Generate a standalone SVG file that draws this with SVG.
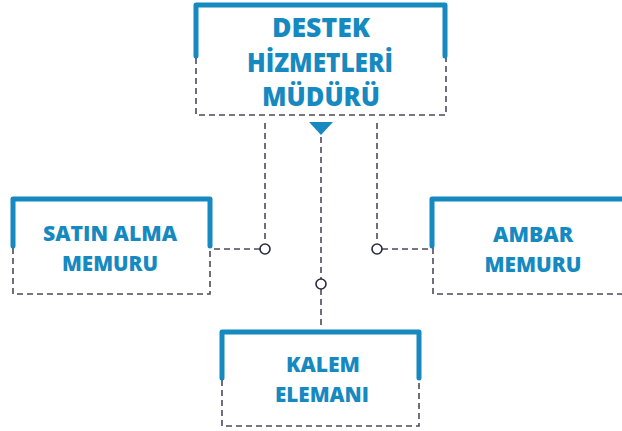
<svg xmlns="http://www.w3.org/2000/svg" width="622" height="431" viewBox="0 0 622 431">
<style>
.br{fill:none;stroke:#1589c0;stroke-width:5;stroke-linejoin:round;stroke-linecap:round}
.ds{fill:none;stroke:#4b4a5e;stroke-width:1.6;stroke-dasharray:6 4}
.dot{fill:#fff;stroke:#2a2a3e;stroke-width:1.6}
text{font-family:"Open Sans","DejaVu Sans",sans-serif;font-weight:800;fill:#1589c0;text-anchor:middle}
.big{font-size:26.5px}
.sm{font-size:21px}
</style>
<rect width="622" height="431" fill="#fff"/>
<g id="connectors">
<path class="ds" d="M265,123 V243 M260,249 H211"/>
<path class="ds" d="M377,123 V243 M382,249 H432"/>
<path class="ds" d="M321,137 V279 M321,289 V328"/>
<circle class="dot" cx="265" cy="249" r="5"/>
<circle class="dot" cx="377" cy="249" r="5"/>
<circle class="dot" cx="321" cy="284" r="5"/>
<polygon points="309,122 333,122 321,135" fill="#1589c0"/>
</g>
<g id="destek">
<path class="br" d="M196,56 V5 H445 V56"/>
<path class="ds" d="M196,58 V115 H446 V58"/>
<text class="big" x="321" y="37" textLength="98" lengthAdjust="spacingAndGlyphs">DESTEK</text>
<text class="big" x="320" y="72" textLength="146" lengthAdjust="spacingAndGlyphs">HİZMETLERİ</text>
<text class="big" x="321" y="106" textLength="118" lengthAdjust="spacingAndGlyphs">MÜDÜRÜ</text>
</g>
<g id="satin">
<path class="br" d="M13,246 V199 H210 V246"/>
<path class="ds" d="M13,248 V294 H210 V248"/>
<text class="sm" x="110" y="241" textLength="134" lengthAdjust="spacingAndGlyphs">SATIN ALMA</text>
<text class="sm" x="110" y="271" textLength="96" lengthAdjust="spacingAndGlyphs">MEMURU</text>
</g>
<g id="ambar">
<path class="br" d="M432,246 V199 H630"/>
<path class="ds" d="M433,248 V294 H630"/>
<text class="sm" x="533" y="242" textLength="80" lengthAdjust="spacingAndGlyphs">AMBAR</text>
<text class="sm" x="533" y="272" textLength="97" lengthAdjust="spacingAndGlyphs">MEMURU</text>
</g>
<g id="kalem">
<path class="br" d="M222,378 V332 H419 V378"/>
<path class="ds" d="M222,380 V426 H419 V380"/>
<text class="sm" x="323" y="372" textLength="74" lengthAdjust="spacingAndGlyphs">KALEM</text>
<text class="sm" x="322" y="402" textLength="94" lengthAdjust="spacingAndGlyphs">ELEMANI</text>
</g>
</svg>
